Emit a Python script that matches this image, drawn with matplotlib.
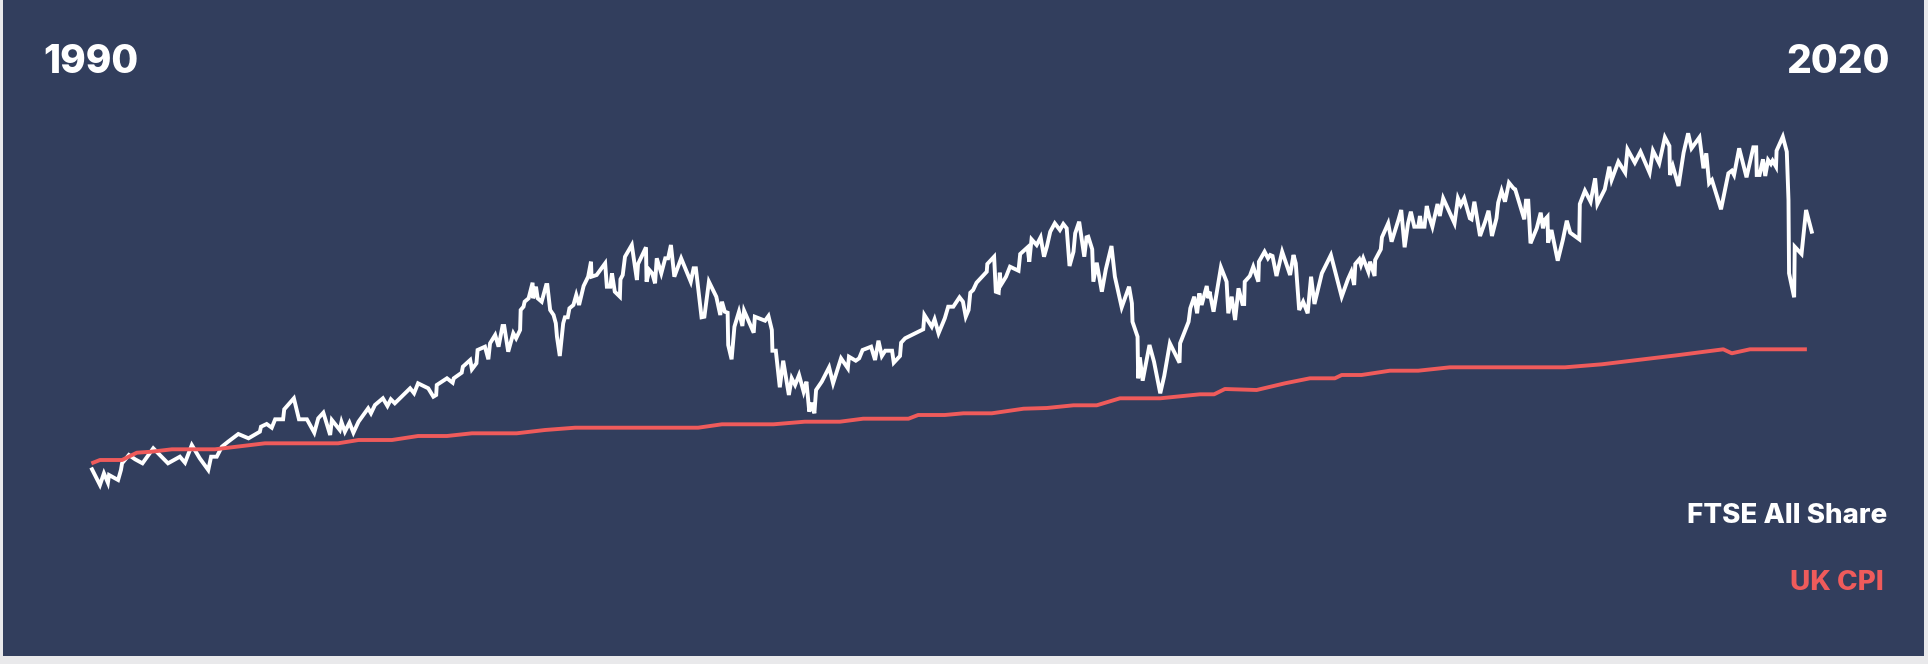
import matplotlib.pyplot as plt

# FTSE All Share (decimal year, index level)
ftse_year = [
    1990.00, 1990.14, 1990.21, 1990.28, 1990.30, 1990.46, 1990.51, 1990.53, 1990.65, 1990.76, 1990.89,
    1991.08, 1991.34, 1991.55, 1991.64, 1991.76, 1991.90,
    1992.05, 1992.10, 1992.20, 1992.29, 1992.40, 1992.58, 1992.76, 1992.96, 1992.98,
    1993.08, 1993.17, 1993.23, 1993.37, 1993.39, 1993.56, 1993.65, 1993.79, 1993.92, 1993.99,
    1994.08, 1994.20, 1994.23, 1994.37, 1994.40, 1994.46, 1994.54, 1994.61, 1994.70, 1994.87, 1994.92, 1994.99,
    1995.13, 1995.21, 1995.27, 1995.34, 1995.61, 1995.68, 1995.75, 1995.93,
    1996.02, 1996.07, 1996.08, 1996.26, 1996.36, 1996.38, 1996.52, 1996.54, 1996.67, 1996.70, 1996.78,
    1996.80, 1996.93, 1996.99,
    1997.02, 1997.11, 1997.17, 1997.24, 1997.27, 1997.34, 1997.43, 1997.48, 1997.55, 1997.56, 1997.61,
    1997.63, 1997.70, 1997.77, 1997.78, 1997.83, 1997.86, 1997.93,
    1998.01, 1998.03, 1998.08, 1998.14, 1998.18, 1998.20, 1998.25, 1998.31, 1998.34, 1998.39, 1998.42,
    1998.49, 1998.54, 1998.59, 1998.67, 1998.75, 1998.80, 1998.81, 1998.90,
    1999.05, 1999.08, 1999.14, 1999.17, 1999.22, 1999.31, 1999.32, 1999.36, 1999.40, 1999.52, 1999.61,
    1999.63, 1999.77, 1999.78, 1999.83, 1999.88, 1999.93, 1999.96,
    2000.04, 2000.11, 2000.16, 2000.21, 2000.27, 2000.39, 2000.56, 2000.61, 2000.65, 2000.75, 2000.80, 2000.88,
    2001.01, 2001.08, 2001.11, 2001.16, 2001.21, 2001.22, 2001.28, 2001.33, 2001.41, 2001.47, 2001.50,
    2001.67, 2001.69, 2001.87, 2001.93, 2001.99,
    2002.00, 2002.06, 2002.13, 2002.19, 2002.29, 2002.34, 2002.40, 2002.47, 2002.55, 2002.60, 2002.62,
    2002.65, 2002.69, 2002.74, 2002.77, 2002.87,
    2003.00, 2003.07, 2003.21, 2003.33, 2003.35, 2003.47, 2003.53, 2003.59, 2003.74, 2003.81, 2003.87,
    2003.93, 2003.99,
    2004.11, 2004.14, 2004.25, 2004.27, 2004.34, 2004.66, 2004.68, 2004.81, 2004.86, 2004.93,
    2005.04, 2005.10, 2005.19, 2005.30, 2005.36, 2005.41, 2005.46, 2005.49, 2005.54, 2005.60, 2005.78,
    2005.79, 2005.91, 2005.94, 2005.99,
    2006.01, 2006.03, 2006.12, 2006.19, 2006.34, 2006.37, 2006.50, 2006.53, 2006.57, 2006.66, 2006.73,
    2006.79, 2006.84, 2006.90, 2006.98,
    2007.07, 2007.13, 2007.19, 2007.24, 2007.31, 2007.34, 2007.41, 2007.50, 2007.54, 2007.57, 2007.64,
    2007.66, 2007.72, 2007.81, 2007.88, 2007.98,
    2008.04, 2008.16, 2008.29, 2008.34, 2008.35, 2008.44, 2008.45, 2008.48, 2008.53, 2008.65, 2008.73,
    2008.84, 2008.91,
    2009.01, 2009.18, 2009.19, 2009.34, 2009.37, 2009.44, 2009.49, 2009.53, 2009.57, 2009.66, 2009.69,
    2009.71, 2009.78, 2009.91,
    2010.01, 2010.04, 2010.10, 2010.16, 2010.22, 2010.29, 2010.32, 2010.33, 2010.42, 2010.48, 2010.57,
    2010.58, 2010.68, 2010.74, 2010.78, 2010.82, 2010.89, 2010.99,
    2011.13, 2011.19, 2011.23, 2011.29, 2011.36, 2011.44, 2011.50, 2011.56, 2011.69, 2011.85,
    2012.04, 2012.15, 2012.21, 2012.26, 2012.28, 2012.35, 2012.38, 2012.42, 2012.51, 2012.54, 2012.62,
    2012.63, 2012.73, 2012.75, 2012.86, 2012.92,
    2013.04, 2013.09, 2013.15, 2013.21, 2013.26, 2013.32, 2013.39, 2013.42, 2013.45, 2013.50, 2013.54,
    2013.58, 2013.64, 2013.73, 2013.77, 2013.83, 2013.91,
    2014.03, 2014.09, 2014.14, 2014.20, 2014.30, 2014.33, 2014.38, 2014.48, 2014.57, 2014.63, 2014.69,
    2014.77, 2014.80, 2014.86, 2014.92, 2014.99,
    2015.07, 2015.10, 2015.26, 2015.29, 2015.33, 2015.37, 2015.48, 2015.55, 2015.59, 2015.63, 2015.67,
    2015.68, 2015.74, 2015.85, 2015.94,
    2016.01, 2016.07, 2016.23, 2016.24, 2016.33, 2016.43, 2016.51, 2016.55, 2016.68, 2016.76, 2016.80, 2016.92,
    2017.04, 2017.08, 2017.21, 2017.31, 2017.47, 2017.53, 2017.64, 2017.74, 2017.82, 2017.83, 2017.88, 2017.98,
    2018.07, 2018.15, 2018.21, 2018.35, 2018.42, 2018.47, 2018.52, 2018.57, 2018.73, 2018.86, 2018.92, 2018.96,
    2019.05, 2019.18, 2019.30, 2019.35, 2019.36, 2019.41, 2019.47, 2019.51, 2019.56, 2019.61, 2019.64,
    2019.70, 2019.71, 2019.82, 2019.89, 2019.92, 2019.93,
    2020.02, 2020.03, 2020.15, 2020.23, 2020.33,
]
ftse_value = [
    1107, 950, 1067, 973, 1050, 1000, 1100, 1167, 1250, 1207, 1167,
    1317, 1167, 1233, 1173, 1350, 1217,
    1100, 1233, 1233, 1333, 1383, 1460, 1417, 1483, 1533,
    1560, 1523, 1607, 1607, 1707, 1817, 1607, 1607, 1473, 1617,
    1673, 1450, 1600, 1500, 1580, 1483, 1573, 1473, 1583, 1717, 1667, 1750,
    1817, 1740, 1807, 1767, 1917, 1867, 1967, 1917,
    1833, 1850, 1950, 2017, 1973, 2017, 2073, 2133, 2200, 2107, 2167,
    2300, 2333, 2207,
    2367, 2450, 2333, 2540, 2540, 2283, 2467, 2417, 2500, 2700, 2733,
    2783, 2817, 2973, 2817, 2933, 2817, 2783,
    2950, 2950, 2700, 2650, 2567, 2433, 2240, 2567, 2627, 2627, 2717,
    2750, 2850, 2750, 2940, 3033, 3183, 3033, 3050,
    3167, 2933, 2933, 3067, 2883, 2833, 3007, 3050, 3233, 3350, 3000,
    3160, 3327, 2983, 3100, 3067, 2967, 3217,
    3067, 3217, 3217, 3350, 3033, 3217, 2983, 3117, 3117, 2627, 2633, 2983,
    2833, 2650, 2783, 2683, 2673, 2350, 2207, 2533, 2683, 2540, 2693,
    2473, 2633, 2593, 2640, 2500,
    2293, 2293, 1927, 2193, 1850, 2017, 1950, 2050, 1883, 1983, 1867,
    1683, 1773, 1667, 1900, 1983,
    2127, 1967, 2217, 2117, 2233, 2193, 2217, 2300, 2333, 2200, 2393,
    2240, 2293,
    2293, 2173, 2240, 2373, 2417, 2507, 2650, 2533, 2607, 2467,
    2617, 2733, 2733, 2827, 2783, 2633, 2700, 2873, 2900, 2973, 3083,
    3160, 3233, 2883, 2873,
    3073, 2950, 3033, 3133, 3093, 3260, 3327, 3183, 3407, 3350, 3427,
    3233, 3333, 3483, 3567,
    3500, 3560, 3517, 3140, 3283, 3467, 3583, 3233, 3427, 3433, 3307,
    2983, 3173, 2883, 3107, 3340,
    3033, 2727, 2933, 2767, 2583, 2433, 2017, 2227, 1993, 2350, 2183,
    1867, 2040,
    2367, 2173, 2367, 2583, 2717, 2833, 2667, 2867, 2750, 2940, 2817,
    2883, 2683, 3127,
    2983, 2667, 2833, 2600, 2917, 2760, 2760, 2983, 3040, 3133, 2983,
    3183, 3283, 3217, 3250, 3240, 3040, 3283,
    3050, 3250, 3167, 2700, 2783, 2667, 3033, 2760, 3067, 3250,
    2833, 3007, 3083, 2950, 3160, 3207, 3150, 3217, 3083, 3183, 3040,
    3200, 3307, 3427, 3567, 3383,
    3600, 3700, 3327, 3567, 3683, 3533, 3533, 3640, 3533, 3533, 3740,
    3640, 3533, 3760, 3640, 3817, 3717,
    3567, 3817, 3750, 3817, 3617, 3607, 3783, 3440, 3583, 3693, 3440,
    3617, 3773, 3893, 3783, 3973,
    3917, 3907, 3607, 3793, 3793, 3367, 3517, 3673, 3517, 3607, 3633,
    3373, 3500, 3193, 3400,
    3593, 3473, 3407, 3760, 3893, 3783, 4017, 3760, 3907, 4133, 4000, 4183,
    4073, 4307, 4173, 4283, 4073, 4293, 4167, 4427, 4340, 4050, 4140, 3940,
    4273, 4467, 4317, 4427, 4117, 4267, 3967, 4000, 3707, 4067, 4093, 4050,
    4317, 4027, 4327, 4327, 4050, 4050, 4207, 4040, 4200, 4160, 4193,
    4133, 4293, 4433, 4283, 3800, 3067,
    2827, 3333, 3260, 3700, 3483,
]

# UK CPI, rebased to the same starting level
cpi_year = [
    1990.02, 1990.14, 1990.53, 1990.79, 1991.05, 1991.41, 1992.17, 1993.05, 1994.34, 1994.70,
    1995.29, 1995.75, 1996.26, 1996.70, 1997.49, 1997.99, 1998.52, 2000.02, 2000.69, 2001.11,
    2002.02, 2002.57, 2003.19, 2003.60, 2004.40, 2004.57, 2005.04, 2005.37, 2005.87, 2006.43,
    2006.84, 2007.31, 2007.72, 2008.13, 2008.84, 2009.54, 2009.79, 2009.98, 2010.54, 2011.04,
    2011.48, 2011.92, 2012.04, 2012.39, 2012.89, 2013.39, 2013.95, 2015.98, 2016.63, 2017.36,
    2017.95, 2018.77, 2018.92, 2019.24, 2020.21,
]
cpi_value = [
    1173, 1200, 1200, 1273, 1283, 1307, 1307, 1367, 1367, 1400,
    1400, 1440, 1440, 1467, 1467, 1500, 1523, 1523, 1523, 1557,
    1557, 1583, 1583, 1613, 1613, 1650, 1650, 1667, 1667, 1713,
    1720, 1747, 1747, 1817, 1817, 1857, 1857, 1910, 1900, 1967,
    2017, 2017, 2050, 2050, 2093, 2093, 2127, 2127, 2157, 2207,
    2247, 2307, 2267, 2307, 2307,
]

start_label = '1990'
end_label = '2020'
series_labels = ['FTSE All Share', 'UK CPI']

navy = '#323E5D'
white = '#FFFFFF'
red = '#EF5B5B'

W, H = 1928, 664
fig = plt.figure(figsize=(W / 100, H / 100), dpi=100, facecolor='#E9E9EB')

# panel leaves a thin light border on the left, right and bottom
ax = fig.add_axes([3 / W, 8 / H, 1921 / W, 656 / H])
ax.set_facecolor(navy)
ax.plot(ftse_year, ftse_value, color=white, lw=2.8, solid_joinstyle='miter', zorder=2)
ax.plot(cpi_year, cpi_value, color=red, lw=2.8, solid_joinstyle='round', zorder=3)
ax.set_xlim(1988.43, 2022.31)
ax.set_ylim(-760, 5800)
ax.set_xticks([])
ax.set_yticks([])
for s in ax.spines.values():
    s.set_visible(False)

font = ['Inter', 'DejaVu Sans']
fig.text(43 / W, 1 - 73 / H, start_label, color=white, fontsize=28, fontweight='heavy',
         family=font, ha='left', va='baseline')
fig.text(1890 / W, 1 - 73 / H, end_label, color=white, fontsize=28, fontweight='heavy',
         family=font, ha='right', va='baseline')
fig.text(1887 / W, 1 - 523 / H, series_labels[0], color=white, fontsize=20, fontweight='heavy',
         family=font, ha='right', va='baseline')
fig.text(1884 / W, 1 - 590 / H, series_labels[1], color=red, fontsize=20, fontweight='heavy',
         family=font, ha='right', va='baseline')

fig.savefig('out.png', dpi=100, facecolor=fig.get_facecolor())
